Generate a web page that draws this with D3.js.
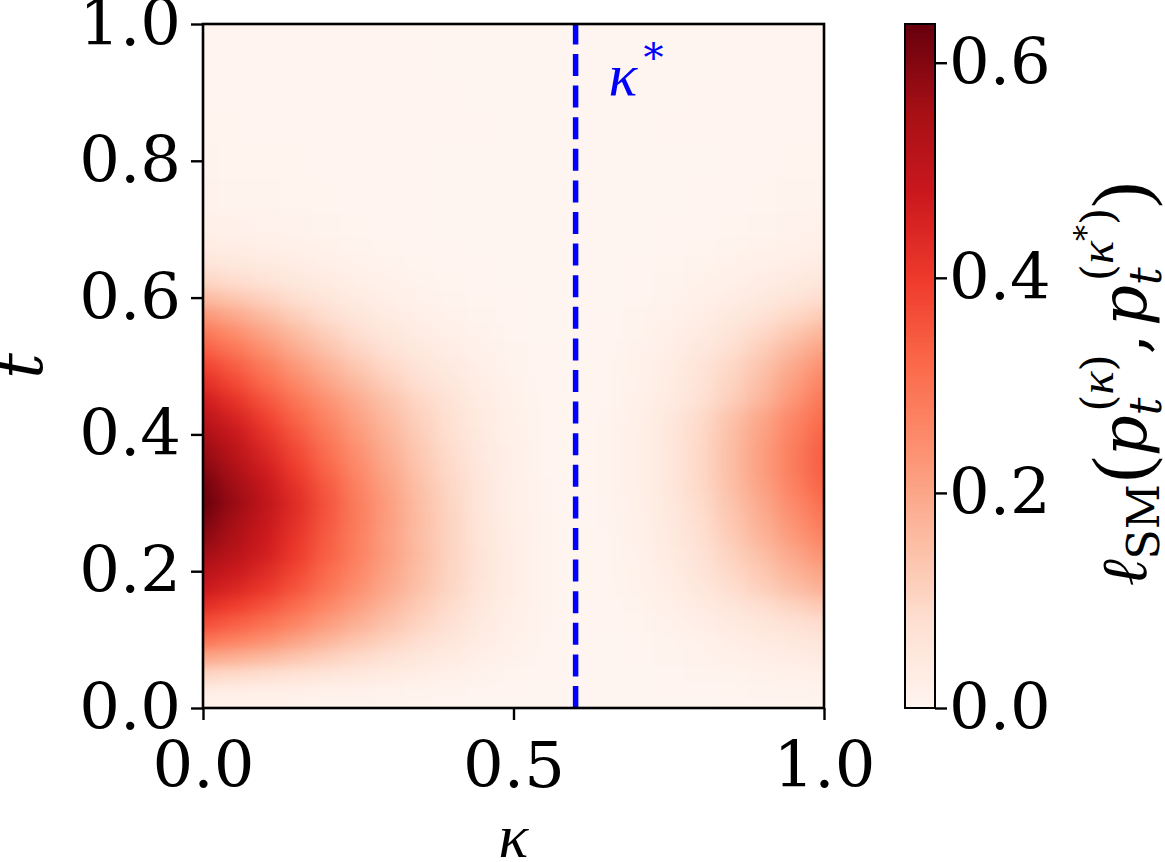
<!DOCTYPE html>
<html><head><meta charset="utf-8">
<script src="https://cdn.jsdelivr.net/npm/d3@7"></script>
<style>
body{margin:0;background:#fff}
svg{display:block}
text{font-family:"DejaVu Serif",serif;fill:#000}
.mk{font-family:"Liberation Serif","DejaVu Serif",serif;font-style:italic}
</style>
</head><body>
<svg id="chart" width="1165" height="862"></svg>
<script>
// ---------------- data ----------------
const kappa = [0,0.05,0.1,0.15,0.2,0.25,0.3,0.35,0.4,0.45,0.5,0.55,0.6,0.65,0.7,0.75,0.8,0.85,0.9,0.95,1.0];
const tValues = [0,0.025,0.05,0.075,0.1,0.125,0.15,0.175,0.2,0.225,0.25,0.275,0.3,0.325,0.35,0.375,0.4,0.425,0.45,0.475,0.5,0.525,0.55,0.575,0.6,0.625,0.65,0.675,0.7,0.75,0.8,0.85,0.9,0.95,1.0];
// loss[i][j] : value at t = tValues[i], kappa = kappa[j]
const loss = [
[.005,.005,.004,.004,.003,.003,.002,.002,.001,.001,.001,.001,.001,.001,.001,.001,.001,.002,.003,.003,.004],
[.03,.027,.024,.021,.017,.014,.011,.008,.006,.003,.002,.001,.001,.001,.001,.002,.003,.005,.006,.008,.01],
[.10,.091,.081,.069,.057,.046,.036,.027,.019,.011,.005,.002,.001,.001,.001,.003,.006,.009,.013,.016,.02],
[.20,.182,.162,.138,.114,.092,.072,.054,.038,.022,.01,.003,.001,.001,.002,.006,.011,.018,.025,.033,.04],
[.30,.273,.243,.207,.171,.138,.108,.081,.057,.033,.015,.005,.001,.001,.004,.009,.017,.027,.038,.049,.06],
[.37,.34,.307,.266,.222,.181,.141,.105,.074,.043,.019,.006,.001,.002,.005,.014,.025,.041,.057,.074,.09],
[.43,.398,.361,.314,.262,.215,.168,.125,.088,.051,.023,.008,.001,.003,.008,.02,.036,.059,.082,.107,.13],
[.48,.446,.408,.355,.298,.245,.192,.144,.101,.058,.026,.009,.001,.004,.011,.027,.05,.081,.113,.148,.18],
[.52,.481,.437,.38,.317,.26,.203,.151,.104,.059,.027,.009,.001,.004,.013,.032,.059,.095,.132,.172,.21],
[.56,.515,.465,.403,.336,.274,.213,.157,.106,.06,.026,.008,.001,.005,.014,.036,.067,.108,.151,.197,.24],
[.59,.537,.478,.413,.342,.277,.212,.153,.105,.057,.025,.007,.001,.005,.016,.041,.076,.122,.17,.221,.27],
[.615,.557,.492,.424,.351,.28,.215,.154,.105,.055,.023,.007,.001,.006,.017,.044,.081,.131,.183,.238,.29],
[.635,.572,.502,.432,.356,.279,.216,.152,.102,.054,.022,.006,.001,.006,.019,.047,.087,.14,.195,.254,.31],
[.625,.561,.491,.42,.345,.271,.208,.147,.098,.052,.021,.006,.001,.007,.02,.05,.092,.149,.208,.271,.33],
[.60,.538,.468,.398,.326,.256,.196,.138,.092,.049,.019,.005,.001,.007,.02,.051,.095,.153,.214,.279,.34],
[.575,.515,.446,.377,.308,.242,.184,.129,.086,.046,.018,.005,.001,.007,.02,.051,.095,.153,.214,.279,.34],
[.545,.487,.42,.353,.287,.225,.171,.12,.08,.043,.016,.005,.001,.007,.02,.05,.092,.149,.208,.271,.33],
[.51,.455,.39,.325,.264,.208,.157,.11,.073,.039,.015,.004,.001,.006,.019,.047,.088,.142,.198,.258,.315],
[.47,.418,.357,.296,.24,.188,.141,.099,.066,.035,.013,.004,.001,.005,.015,.037,.072,.115,.168,.233,.295],
[.43,.379,.32,.261,.206,.158,.116,.08,.052,.028,.01,.003,.001,.005,.014,.034,.066,.105,.154,.213,.27],
[.39,.341,.284,.227,.176,.131,.094,.063,.041,.021,.008,.002,.001,.004,.012,.031,.06,.096,.14,.194,.245],
[.34,.294,.242,.19,.143,.103,.071,.047,.029,.015,.006,.002,.001,.003,.01,.025,.049,.079,.118,.164,.21],
[.29,.249,.202,.155,.113,.079,.052,.033,.02,.01,.004,.001,.001,.003,.008,.02,.037,.061,.094,.131,.17],
[.23,.196,.156,.117,.083,.055,.035,.021,.012,.006,.002,.001,.001,.002,.006,.014,.026,.044,.068,.095,.125],
[.16,.136,.109,.082,.058,.038,.024,.014,.008,.004,.002,.001,.001,.001,.004,.009,.018,.03,.046,.065,.085],
[.10,.085,.068,.051,.036,.024,.015,.009,.005,.003,.001,.001,.001,.001,.002,.006,.012,.019,.03,.042,.055],
[.06,.051,.041,.031,.022,.014,.009,.005,.003,.002,.001,.001,.001,.001,.002,.004,.007,.012,.019,.027,.035],
[.035,.03,.024,.018,.013,.008,.005,.003,.002,.001,.001,.001,.001,.001,.001,.002,.005,.008,.012,.017,.022],
[.02,.017,.014,.01,.007,.005,.003,.002,.001,.001,.001,.001,.001,.001,.001,.002,.003,.005,.008,.011,.015],
[.01,.009,.007,.005,.004,.003,.002,.002,.001,.001,.001,.001,.001,.001,.001,.001,.002,.003,.004,.006,.008],
[.006,.005,.005,.004,.003,.003,.002,.002,.001,.001,.001,.001,.001,.001,.001,.001,.001,.002,.003,.004,.005],
[.004,.004,.003,.003,.003,.002,.002,.002,.002,.002,.001,.001,.001,.001,.001,.002,.002,.002,.003,.003,.003],
[.003,.003,.003,.003,.002,.002,.002,.002,.002,.001,.001,.001,.001,.001,.001,.001,.002,.002,.002,.003,.003],
[.003,.003,.002,.002,.002,.002,.002,.002,.001,.001,.001,.001,.001,.001,.001,.001,.001,.002,.002,.002,.003],
[.003,.003,.002,.002,.002,.002,.002,.001,.001,.001,.001,.001,.001,.001,.001,.001,.001,.002,.002,.002,.002]
];
const kappaStar = 0.6;
const xTicks = [0, 0.5, 1.0];
const yTicks = [0, 0.2, 0.4, 0.6, 0.8, 1.0];
const cbTicks = [0, 0.2, 0.4, 0.6];
const vmax = 0.636;
const redsColors = ["#fff5f0","#fee0d2","#fcbba1","#fc9272","#fb6a4a","#ef3b2c","#cb181d","#a50f15","#67000d"];

// ---------------- layout ----------------
const svg = d3.select("#chart");
const P = {left:203, right:824, top:24, bottom:708};
const CB = {left:905, right:935};
const x = d3.scaleLinear().domain([0,1]).range([P.left, P.right]);
const y = d3.scaleLinear().domain([0,1]).range([P.bottom, P.top]);
const color = d3.scaleLinear()
  .domain(redsColors.map((c,i)=> i/(redsColors.length-1)*vmax))
  .range(redsColors).interpolate(d3.interpolateRgb).clamp(true);

const defs = svg.append("defs");
defs.append("clipPath").attr("id","plotClip").append("rect")
  .attr("x",P.left).attr("y",P.top).attr("width",P.right-P.left).attr("height",P.bottom-P.top);
const f = defs.append("filter").attr("id","smooth").attr("filterUnits","userSpaceOnUse")
  .attr("x",P.left-120).attr("y",P.top-120).attr("width",P.right-P.left+240).attr("height",P.bottom-P.top+240)
  .attr("color-interpolation-filters","sRGB");
f.append("feGaussianBlur").attr("stdDeviation","11 6");

function edges(vals, pad){
  return vals.map((v,i)=>[
    i===0 ? v-pad : (vals[i-1]+v)/2,
    i===vals.length-1 ? v+pad : (v+vals[i+1])/2
  ]);
}
const kE = edges(kappa, 0.12), tE = edges(tValues, 0.12);

const cells = [];
loss.forEach((row,i)=>row.forEach((v,j)=>cells.push({i,j,v})));

svg.append("g").attr("clip-path","url(#plotClip)")
  .append("g").attr("filter","url(#smooth)")
  .selectAll("rect").data(cells).join("rect")
  .attr("x",d=>x(kE[d.j][0])-0.5)
  .attr("width",d=>x(kE[d.j][1])-x(kE[d.j][0])+1)
  .attr("y",d=>y(tE[d.i][1])-0.5)
  .attr("height",d=>y(tE[d.i][0])-y(tE[d.i][1])+1)
  .attr("fill",d=>color(d.v))
  .attr("shape-rendering","crispEdges");

// kappa* dashed line (drawn from bottom to top)
svg.append("line")
  .attr("x1",x(kappaStar)).attr("x2",x(kappaStar))
  .attr("y1",y(0)).attr("y2",y(1))
  .attr("stroke","#0000ff").attr("stroke-width",5.5)
  .attr("stroke-dasharray","22,9.6");

svg.append("text").attr("x",x(kappaStar)+33).attr("y",95).attr("font-size",52)
  .style("fill","#0000ff")
  .html('<tspan class="mk" font-size="60">κ</tspan><tspan dx="6" dy="-24" font-size="40">*</tspan>');

// frame
svg.append("rect").attr("x",P.left).attr("y",P.top).attr("width",P.right-P.left).attr("height",P.bottom-P.top)
  .attr("fill","none").attr("stroke","#000").attr("stroke-width",2.6);

// axes
function styleAxis(g){
  g.select(".domain").remove();
  g.selectAll(".tick line").attr("stroke","#000").attr("stroke-width",2.4);
  g.selectAll(".tick text").attr("font-size",64).style("font-family","DejaVu Serif").style("fill","#000");
}
svg.append("g").attr("transform",`translate(0,${P.bottom})`)
  .call(d3.axisBottom(x).tickValues(xTicks).tickFormat(d3.format(".1f")).tickSize(12).tickPadding(22))
  .call(styleAxis);
svg.append("g").attr("transform",`translate(${P.left},0)`)
  .call(d3.axisLeft(y).tickValues(yTicks).tickFormat(d3.format(".1f")).tickSize(12).tickPadding(10))
  .call(styleAxis);

svg.append("text").attr("x",(P.left+P.right)/2).attr("y",857).attr("text-anchor","middle")
  .attr("font-size",62).attr("class","mk").text("κ");
svg.append("text").attr("transform",`translate(42,${(P.top+P.bottom)/2}) rotate(-90)`)
  .attr("text-anchor","middle").attr("font-size",64).attr("font-style","italic").text("t");

// colorbar
const cy = d3.scaleLinear().domain([0,vmax]).range([P.bottom,P.top]);
const steps = d3.range(0,256);
svg.append("g").selectAll("rect").data(steps).join("rect")
  .attr("x",CB.left).attr("width",CB.right-CB.left)
  .attr("y",d=>cy((d+1)/256*vmax)-0.5)
  .attr("height",d=>cy(d/256*vmax)-cy((d+1)/256*vmax)+1)
  .attr("fill",d=>color((d+0.5)/256*vmax))
  .attr("shape-rendering","crispEdges");
svg.append("rect").attr("x",CB.left).attr("y",P.top).attr("width",CB.right-CB.left).attr("height",P.bottom-P.top)
  .attr("fill","none").attr("stroke","#000").attr("stroke-width",2);
svg.append("g").attr("transform",`translate(${CB.right},0)`)
  .call(d3.axisRight(cy).tickValues(cbTicks).tickFormat(d3.format(".1f")).tickSize(12).tickPadding(2))
  .call(styleAxis);

// colorbar label
svg.append("text").attr("transform",`translate(1146,${(P.top+P.bottom)/2 + 18}) rotate(-90)`)
  .attr("text-anchor","middle").attr("font-size",64)
  .html('<tspan font-style="italic">ℓ</tspan>'+
        '<tspan font-size="44" dy="13">SM</tspan>'+
        '<tspan font-size="78" font-family="Liberation Serif" dy="-13" dx="2">(</tspan>'+
        '<tspan font-style="italic">p</tspan>'+
        '<tspan font-size="44" font-style="italic" dy="15">t</tspan>'+
        '<tspan font-size="44" dx="-14" dy="-48">(</tspan><tspan font-size="48" class="mk">κ</tspan><tspan font-size="44">)</tspan>'+
        '<tspan dy="33">,</tspan>'+
        '<tspan font-style="italic" dx="8">p</tspan>'+
        '<tspan font-size="44" font-style="italic" dy="15">t</tspan>'+
        '<tspan font-size="44" dx="-14" dy="-48">(</tspan><tspan font-size="48" class="mk">κ</tspan><tspan font-size="32" dy="-16">*</tspan><tspan font-size="44" dy="16">)</tspan>'+
        '<tspan font-size="78" font-family="Liberation Serif" dy="33">)</tspan>');
</script>
</body></html>
